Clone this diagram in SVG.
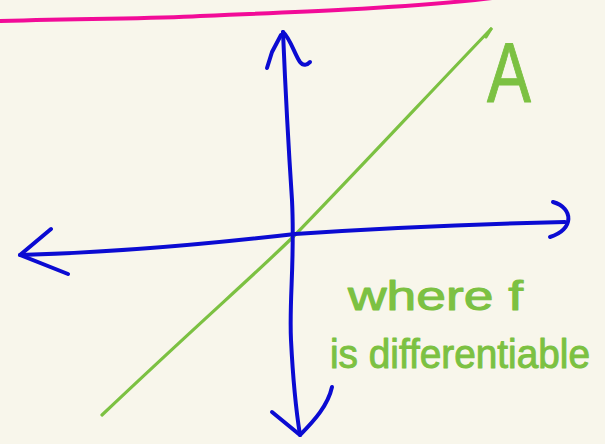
<svg xmlns="http://www.w3.org/2000/svg" width="605" height="444" viewBox="0 0 605 444">
<style>
.ink{fill:none;stroke-linecap:round;stroke-linejoin:round}
.blue{stroke:#0b0bd2;stroke-width:4}
.green{stroke:#7cc142;stroke-width:3.2}
.pink{stroke:#f20b98;stroke-width:4}
.hand{fill:#7cc142;stroke:#7cc142;stroke-width:1;stroke-linejoin:round;font-family:"Liberation Sans",Arial,sans-serif}
</style>
<rect width="605" height="444" fill="#f8f6eb"/>
<g id="divider"><path class="ink pink" d="M-2,21 C 100,18 150,19 200,16 C 300,12 400,8 475,0 L 560,-10"/></g>
<g id="line-A">
<path class="ink green" d="M102,415 C 200,322 260,270 295,235 C 360,168 440,82 491,29"/>
<path class="ink green" d="M486,37 L491,29"/>
<text class="hand" x="487" y="102" font-size="86" textLength="44" lengthAdjust="spacingAndGlyphs" stroke-width="1.5">A</text>
</g>
<g id="axes">
<path class="ink blue" d="M283,32 C 285,80 288,140 292,200 C 295,260 289,300 291,340 C 293,380 296,410 300,435"/>
<path class="ink blue" d="M267,68 L272,52 L281,35" stroke-width="5"/>
<path class="ink blue" d="M283,32 C 290,38 295,55 300,62 C 304,67 308,64 310,62"/>
<path class="ink blue" d="M272,412 L300,435 C 315,420 328,405 332,387"/>
<path class="ink blue" d="M20,255 C 100,253 200,245 295,234 C 400,227 480,224 565,222"/>
<path class="ink blue" d="M51,229 L20,255 L68,274"/>
<path class="ink blue" d="M553,202 C 574,208 574,230 550,237"/>
</g>
<g id="note">
<text class="hand" x="348" y="310" font-size="40" textLength="175" lengthAdjust="spacingAndGlyphs">where f</text>
<text class="hand" x="330" y="368" font-size="40" textLength="260" lengthAdjust="spacingAndGlyphs">is differentiable</text>
</g>
</svg>
